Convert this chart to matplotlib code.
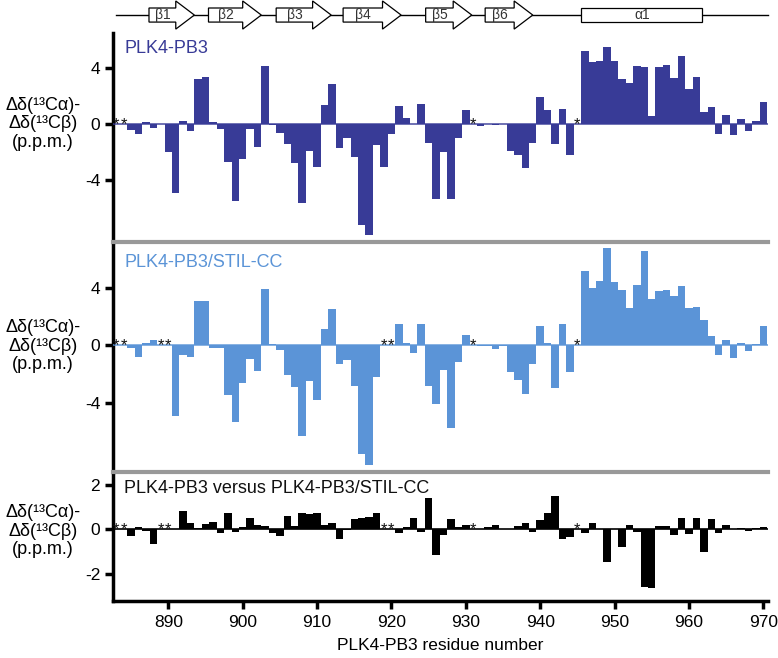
import numpy as np
import matplotlib
matplotlib.use("Agg")
import matplotlib.pyplot as plt
from matplotlib.patches import Polygon, Rectangle

plt.rcParams['font.family'] = ['Liberation Sans', 'DejaVu Sans']

residues = list(range(883, 971))
nan = np.nan

pb3 = [nan, nan, -0.43, -0.74, 0.14, -0.26, 0.03, -1.97, -4.94, 0.21,
       -0.47, 3.18, 3.37, 0.14, -0.33, -2.73, -5.49, -2.49, -0.36, -1.62,
       4.13, -0.07, -0.67, -1.43, -2.78, -5.60, -1.90, -3.09, 1.35, 2.85,
       -1.73, -1.02, -2.33, -7.20, -7.90, -1.50, -3.04, -0.71, 1.28, 0.40,
       0.02, 1.42, -1.35, -5.37, -1.97, -5.37, -1.02, 0.97, nan, -0.14,
       0.02, -0.05, 0.03, -1.90, -2.23, -3.16, -1.38, 1.90, 0.97, -1.43,
       1.09, -2.21, nan, 5.20, 4.40, 4.50, 5.50, 4.47, 3.18, 2.95,
       4.13, 4.06, 0.55, 4.06, 4.20, 3.25, 4.82, 2.47, 3.33, 0.86,
       1.21, -0.74, 0.62, -0.81, 0.33, -0.52, 0.21, 1.57]

stil = [nan, nan, -0.20, -0.82, 0.16, 0.38, nan, nan, -4.92, -0.70,
        -0.78, 3.10, 3.10, -0.16, -0.19, -3.46, -5.34, -2.66, -0.92, -1.76,
        3.93, 0.10, -0.35, -2.05, -2.92, -6.33, -2.52, -3.84, 1.18, 2.52,
        -1.29, -1.00, -2.82, -7.58, -8.40, -2.24, nan, nan, 1.48, 0.19,
        -0.52, 1.48, -2.82, -4.12, -1.69, -5.81, -1.18, 0.70, nan, -0.04,
        -0.03, -0.24, -0.02, -1.86, -2.40, -3.39, -1.29, 1.36, 0.14, -2.99,
        1.48, -1.88, nan, 5.25, 4.00, 4.52, 6.85, 4.42, 3.90, 2.59,
        4.26, 6.59, 3.25, 3.79, 3.90, 3.44, 4.16, 2.59, 2.70, 1.76,
        0.68, -0.64, 0.38, -0.89, 0.16, -0.42, 0.10, 1.36]

diff = [nan, nan, -0.29, 0.09, -0.08, -0.65, nan, nan, 0.02, 0.81,
        0.27, 0.04, 0.23, 0.35, -0.15, 0.74, -0.12, 0.09, 0.53, 0.20,
        0.17, -0.18, -0.30, 0.62, 0.17, 0.72, 0.69, 0.74, 0.20, 0.27,
        -0.45, -0.02, 0.45, 0.50, 0.56, 0.72, nan, nan, -0.18, 0.09,
        0.53, -0.12, 1.41, -1.17, -0.26, 0.45, 0.09, 0.18, nan, 0.01,
        0.09, 0.18, 0.01, 0.01, 0.15, 0.27, -0.12, 0.42, 0.72, 1.50,
        -0.45, -0.33, nan, -0.15, 0.27, 0.02, -1.46, 0.02, -0.81, 0.20,
        -0.12, -2.59, -2.65, 0.17, 0.17, -0.26, 0.53, -0.23, 0.50, -1.02,
        0.45, -0.15, 0.20, 0.02, 0.06, -0.09, 0.05, 0.09]

panel_titles = ['PLK4-PB3', 'PLK4-PB3/STIL-CC', 'PLK4-PB3 versus PLK4-PB3/STIL-CC']
panel_colors = ['#383B97', '#5B94D7', '#000000']
panel_yticks = [[-4, 0, 4], [-4, 0, 4], [-2, 0, 2]]
xticks = [890, 900, 910, 920, 930, 940, 950, 960, 970]

sse_labels = ['β1', 'β2', 'β3', 'β4', 'β5', 'β6', 'α1']
sse_types = ['E', 'E', 'E', 'E', 'E', 'E', 'H']
sse_start = [887.4, 895.4, 904.5, 913.5, 924.6, 932.6, 945.5]
sse_end = [893.5, 902.5, 911.9, 921.3, 930.8, 939.0, 961.8]

W, H = 778, 658
fig = plt.figure(figsize=(W / 100, H / 100), dpi=100)

XL = (882.52, 970.63)
px_left, px_right = 112.7, 768.0


def add_ax(top, bottom):
    return fig.add_axes([px_left / W, (H - bottom) / H, (px_right - px_left) / W, (bottom - top) / H])


ax_top = add_ax(0, 32)
ax1 = add_ax(33, 242)
ax2 = add_ax(242, 472)
ax3 = add_ax(472, 601)

ylims = [(-8.40, 6.48), (-8.87, 7.25), (-3.23, 2.58)]
series = [pb3, stil, diff]
axes = [ax1, ax2, ax3]
label_centers = [124, 346, 531]
title_tops = [40, 254, 480]

for i, (ax, vals) in enumerate(zip(axes, series)):
    col = panel_colors[i]
    vals = np.array(vals, dtype=float)
    res = np.array(residues)
    ok = ~np.isnan(vals)
    ax.bar(res[ok], vals[ok], width=1.0, color=col, linewidth=0, zorder=2)
    ax.axhline(0, color=col if i < 2 else '#000000', lw=1.2, zorder=3,
               alpha=0.85 if i < 2 else 1)
    for r in res[~ok]:
        ax.annotate('*', (r, 0), xytext=(0, -5.5), textcoords='offset points',
                    ha='center', va='bottom', fontsize=12, color='#111111', zorder=4)
    ax.set_xlim(*XL)
    ax.set_ylim(*ylims[i])
    ax.set_yticks(panel_yticks[i])
    ax.set_yticklabels([str(t) for t in panel_yticks[i]])
    ax.tick_params(axis='y', direction='out', length=6, width=2.5, labelsize=12.5, pad=3)
    ax.spines['right'].set_visible(False)
    ax.spines['left'].set_linewidth(2.5)
    ax.spines['left'].set_color('black')
    if i == 0:
        ax.spines['top'].set_visible(False)
    else:
        ax.spines['top'].set_color('#999999')
        ax.spines['top'].set_linewidth(3)
    if i < 2:
        ax.spines['bottom'].set_visible(False)
        ax.set_xticks([])
    else:
        ax.spines['bottom'].set_linewidth(2.5)
        ax.set_xticks(xticks)
        ax.set_xticklabels([str(t) for t in xticks])
        ax.tick_params(axis='x', direction='out', length=6, width=2.5, labelsize=12.5, pad=4)
        ax.set_xlabel('PLK4-PB3 residue number', fontsize=12.5, labelpad=6)
    ax.patch.set_alpha(0)
    fig.text(124 / W, 1 - title_tops[i] / H, panel_titles[i], ha='left', va='top',
             fontsize=13, color=col if i < 2 else '#111111')
    fig.text(43 / W, 1 - label_centers[i] / H, 'Δδ(¹³Cα)-\nΔδ(¹³Cβ)\n(p.p.m.)',
             ha='center', va='center', fontsize=13, linespacing=1.12, multialignment='center')

# secondary structure diagram
ax_top.set_xlim(*XL)
ax_top.set_ylim(0, 1)
ax_top.axis('off')
yc = 0.53
bh = 0.22
hh = 0.44
ax_top.plot([882.9, 970.6], [yc, yc], color='black', lw=1.0, zorder=1, clip_on=False)
for lab, typ, s, e in zip(sse_labels, sse_types, sse_start, sse_end):
    if typ == 'E':
        xh = e - 2.5
        pts = [(s, yc - bh), (xh, yc - bh), (xh, yc - hh), (e, yc), (xh, yc + hh),
               (xh, yc + bh), (s, yc + bh)]
        ax_top.add_patch(Polygon(pts, closed=True, facecolor='white', edgecolor='black',
                                 lw=0.9, zorder=2, clip_on=False))
        cx = (s + xh) / 2
    else:
        ax_top.add_patch(Rectangle((s, yc - bh), e - s, 2 * bh, facecolor='white',
                                   edgecolor='black', lw=0.9, zorder=2, clip_on=False))
        cx = (s + e) / 2
    ax_top.text(cx, yc, lab, ha='center', va='center', fontsize=10, color='#333333', zorder=3)

fig.savefig('out.png', dpi=100)
